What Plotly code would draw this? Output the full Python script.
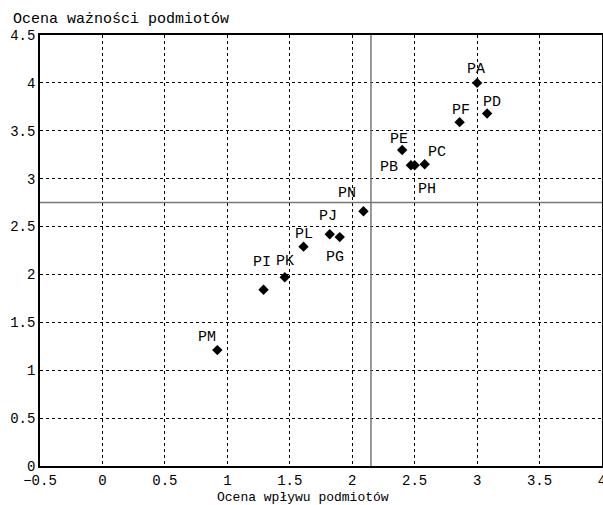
import plotly.graph_objects as go

labels = ["PA", "PD", "PF", "PE", "PB", "PH", "PC", "PN", "PJ", "PG", "PL", "PK", "PI", "PM"]
impact = [3.00, 3.08, 2.86, 2.40, 2.47, 2.50, 2.58, 2.09, 1.82, 1.90, 1.61, 1.46, 1.29, 0.92]
importance = [4.00, 3.68, 3.59, 3.30, 3.14, 3.14, 3.15, 2.66, 2.42, 2.39, 2.29, 1.97, 1.84, 1.21]

x_ticks = [-0.5, 0, 0.5, 1, 1.5, 2, 2.5, 3, 3.5, 4]
y_ticks = [0, 0.5, 1, 1.5, 2, 2.5, 3, 3.5, 4, 4.5]
x_split = 2.15
y_split = 2.75

# label offsets in pixels (style only)
label_shift = {
    "PA": (-1, 13), "PD": (5, 11), "PF": (1, 12), "PE": (-3, 10),
    "PB": (-22, -2), "PH": (12, -24), "PC": (12, 12), "PN": (-16, 18),
    "PJ": (-2, 18), "PG": (-5, -20), "PL": (0, 12), "PK": (0, 16),
    "PI": (-2, 27), "PM": (-10, 13),
}

FONT = "Liberation Mono, Courier New, monospace"

fig = go.Figure()
fig.add_trace(go.Scatter(
    x=impact, y=importance, mode="markers",
    marker=dict(symbol="diamond", size=8, color="black"),
    hoverinfo="text", text=labels, showlegend=False,
))

for lab, xv, yv in zip(labels, impact, importance):
    dx, dy = label_shift[lab]
    fig.add_annotation(x=xv, y=yv, text=lab, showarrow=False,
                       xshift=dx, yshift=dy,
                       font=dict(family=FONT, size=15, color="black"))

fig.add_shape(type="line", xref="x", yref="paper", x0=x_split, x1=x_split, y0=0, y1=1,
              line=dict(color="#777777", width=1.5))
fig.add_shape(type="line", xref="paper", yref="y", x0=0, x1=1, y0=y_split, y1=y_split,
              line=dict(color="#777777", width=1.5))

fig.add_annotation(xref="paper", yref="paper", x=-0.052, y=1.012, xanchor="left", yanchor="bottom",
                   text="Ocena ważności podmiotów", showarrow=False,
                   font=dict(family=FONT, size=15, color="black"))
fig.add_annotation(xref="paper", yref="paper", x=0.468, y=-0.052, xanchor="center", yanchor="top",
                   text="Ocena wpływu podmiotów", showarrow=False,
                   font=dict(family=FONT, size=13, color="black"))

axis_common = dict(
    showgrid=True, gridcolor="black", gridwidth=1, griddash="3px,3px",
    showline=True, linecolor="black", linewidth=1.5, mirror=True,
    ticks="", zeroline=False, automargin=False, ticklabeloverflow="allow",
    tickfont=dict(family=FONT, size=14, color="black"),
)

fig.update_xaxes(range=[-0.5, 4], tickvals=x_ticks,
                 ticktext=["−0.5", "0", "0.5", "1", "1.5", "2", "2.5", "3", "3.5", "4"],
                 **axis_common)
fig.update_yaxes(range=[0, 4.5], tickvals=y_ticks,
                 ticktext=["0", "0.5", "1", "1.5", "2", "2.5", "3", "3.5", "4", "4.5"],
                 **axis_common)

fig.update_layout(
    width=603, height=505,
    margin=dict(l=40, r=1, t=35, b=39),
    paper_bgcolor="white", plot_bgcolor="white",
    font=dict(family=FONT, color="black"),
)

fig.write_html("out.html", config={"displayModeBar": False},
               post_script="document.body.style.margin='0';document.body.style.overflow='hidden';")
